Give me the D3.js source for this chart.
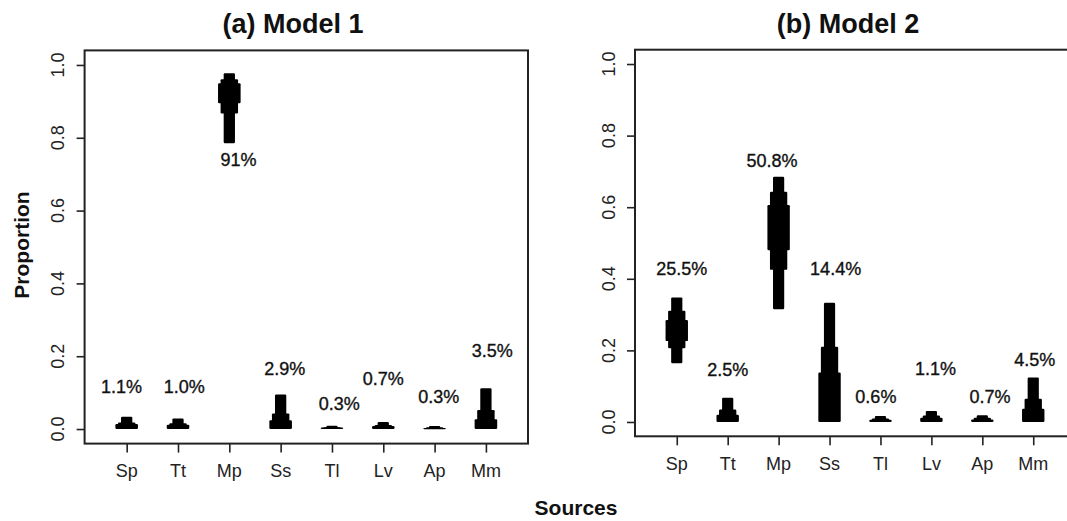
<!DOCTYPE html>
<html>
<head>
<meta charset="utf-8">
<script src="https://cdn.jsdelivr.net/npm/d3@7"></script>
<style>
  html, body { margin: 0; padding: 0; background: #fff; }
  svg { display: block; font-family: "Liberation Sans", Arial, sans-serif; }
</style>
</head>
<body>
<svg id="chart" width="1067" height="521"></svg>
<script>
// ---------- data ----------
const categories = ["Sp", "Tt", "Mp", "Ss", "Tl", "Lv", "Ap", "Mm"];
const yTicks = [0, 0.2, 0.4, 0.6, 0.8, 1.0];
const panelTitles = [["(a)", "Model 1"], ["(b)", "Model 2"]];

// Model 1 credible intervals (95%, 75%, 50%)
const m1Hdr95 = [[0, 0.034], [0, 0.029], [0.785, 0.977], [0, 0.095], [0, 0.009], [0, 0.019], [0, 0.008], [0, 0.112]];
const m1Hdr75 = [[0, 0.018], [0, 0.016], [0.867, 0.961], [0, 0.043], [0, 0.005], [0, 0.011], [0, 0.005], [0, 0.052]];
const m1Hdr50 = [[0, 0.014], [0, 0.012], [0.895, 0.950], [0, 0.024], [0, 0.004], [0, 0.008], [0, 0.003], [0, 0.027]];
const m1Labels = ["1.1%", "1.0%", "91%", "2.9%", "0.3%", "0.7%", "0.3%", "3.5%"];
const m1LabelY = [0.116, 0.116, 0.739, 0.167, 0.069, 0.139, 0.089, 0.216];
const m1LabelDx = [-0.10, 0.12, 0.18, 0.08, 0.14, 0.0, 0.08, 0.125];

// Model 2 credible intervals (95%, 75%, 50%)
const m2Hdr95 = [[0.164, 0.348], [0, 0.068], [0.315, 0.685], [0, 0.333], [0, 0.017], [0, 0.031], [0, 0.019], [0, 0.124]];
const m2Hdr75 = [[0.206, 0.311], [0, 0.035], [0.425, 0.643], [0, 0.210], [0, 0.010], [0, 0.018], [0, 0.012], [0, 0.065]];
const m2Hdr50 = [[0.226, 0.285], [0, 0.020], [0.480, 0.606], [0, 0.138], [0, 0.006], [0, 0.012], [0, 0.007], [0, 0.037]];
const m2Labels = ["25.5%", "2.5%", "50.8%", "14.4%", "0.6%", "1.1%", "0.7%", "4.5%"];
const m2LabelY = [0.429, 0.146, 0.731, 0.429, 0.072, 0.150, 0.071, 0.173];
const m2LabelDx = [0.10, 0.0, -0.13, 0.12, -0.09, 0.08, 0.15, 0.03];

// ---------- layout ----------
const svg = d3.select("#chart");
const panels = [
  { title: panelTitles[0], hdr: [m1Hdr95, m1Hdr75, m1Hdr50], labels: m1Labels, labelY: m1LabelY, labelDx: m1LabelDx,
    box: { l: 84.6, r: 528, t: 50.4, b: 443.6 }, titleX: 293 },
  { title: panelTitles[1], hdr: [m2Hdr95, m2Hdr75, m2Hdr50], labels: m2Labels, labelY: m2LabelY, labelDx: m2LabelDx,
    box: { l: 635, r: 1075, t: 49.7, b: 436.3 }, titleX: 848 }
];
const widthFrac = [0.22, 0.34, 0.44]; // 95%, 75%, 50% glyph widths (fraction of category step)
const fontSize = 18;
const cap = 0.716 * fontSize;

panels.forEach(p => {
  const x = d3.scaleLinear().domain([0.18, 8.82]).range([p.box.l, p.box.r]);
  const y = d3.scaleLinear().domain([-0.04, 1.04]).range([p.box.b, p.box.t]);
  const step = x(2) - x(1);
  const g = svg.append("g");

  // glyphs
  p.hdr.forEach((series, k) => {
    const w = widthFrac[k] * step;
    g.selectAll(null).data(series).join("rect")
      .attr("x", (d, i) => x(i + 1) - w / 2)
      .attr("width", w)
      .attr("y", d => y(d[1]))
      .attr("height", d => Math.max(1.2, y(d[0]) - y(d[1])))
      .attr("rx", 1.2)
      .attr("fill", "#000");
  });

  // percentage labels
  g.selectAll(null).data(p.labels).join("text")
    .attr("x", (d, i) => x(i + 1 + p.labelDx[i]))
    .attr("y", (d, i) => y(p.labelY[i]) + cap / 2)
    .attr("text-anchor", "middle")
    .attr("font-size", fontSize)
    .attr("fill", "#111")
    .attr("stroke", "#111")
    .attr("stroke-width", 0.35)
    .text(d => d);

  // axes (ticks)
  const yAxis = d3.axisLeft(y).tickValues(yTicks).tickSize(8).tickFormat("");
  const ya = g.append("g").attr("transform", `translate(${p.box.l},0)`).call(yAxis);
  const xAxis = d3.axisBottom(x).tickValues(d3.range(1, categories.length + 1)).tickSize(9).tickFormat("");
  const xa = g.append("g").attr("transform", `translate(0,${p.box.b})`).call(xAxis);
  [ya, xa].forEach(a => {
    a.select(".domain").remove();
    a.selectAll(".tick line").attr("stroke", "#222").attr("stroke-width", 1.6);
  });

  // y tick labels (rotated)
  g.selectAll(null).data(yTicks).join("text")
    .attr("transform", d => `translate(${p.box.l - 20.5},${y(d)}) rotate(-90)`)
    .attr("text-anchor", "middle")
    .attr("font-size", fontSize)
    .attr("fill", "#222")
    .text(d => d3.format(".1f")(d));

  // x tick labels
  g.selectAll(null).data(categories).join("text")
    .attr("x", (d, i) => x(i + 1))
    .attr("y", p.box.b + 33.4)
    .attr("text-anchor", "middle")
    .attr("font-size", fontSize)
    .attr("fill", "#222")
    .text(d => d);

  // box
  g.append("rect")
    .attr("x", p.box.l).attr("y", p.box.t)
    .attr("width", p.box.r - p.box.l).attr("height", p.box.b - p.box.t)
    .attr("fill", "none").attr("stroke", "#222").attr("stroke-width", 2);

  // title
  const t = g.append("text")
    .attr("x", p.titleX)
    .attr("y", 33)
    .attr("text-anchor", "middle")
    .attr("font-size", 27)
    .attr("font-weight", "bold")
    .attr("fill", "#111");
  t.append("tspan").text(p.title[0] + " ");
  t.append("tspan").text(p.title[1]);
});

// axis titles
svg.append("text")
  .attr("transform", "translate(29,245) rotate(-90)")
  .attr("text-anchor", "middle")
  .attr("font-size", 21)
  .attr("font-weight", "bold")
  .attr("fill", "#111")
  .text("Proportion");

svg.append("text")
  .attr("x", 576)
  .attr("y", 515)
  .attr("text-anchor", "middle")
  .attr("font-size", 21)
  .attr("font-weight", "bold")
  .attr("fill", "#111")
  .text("Sources");
</script>
</body>
</html>
